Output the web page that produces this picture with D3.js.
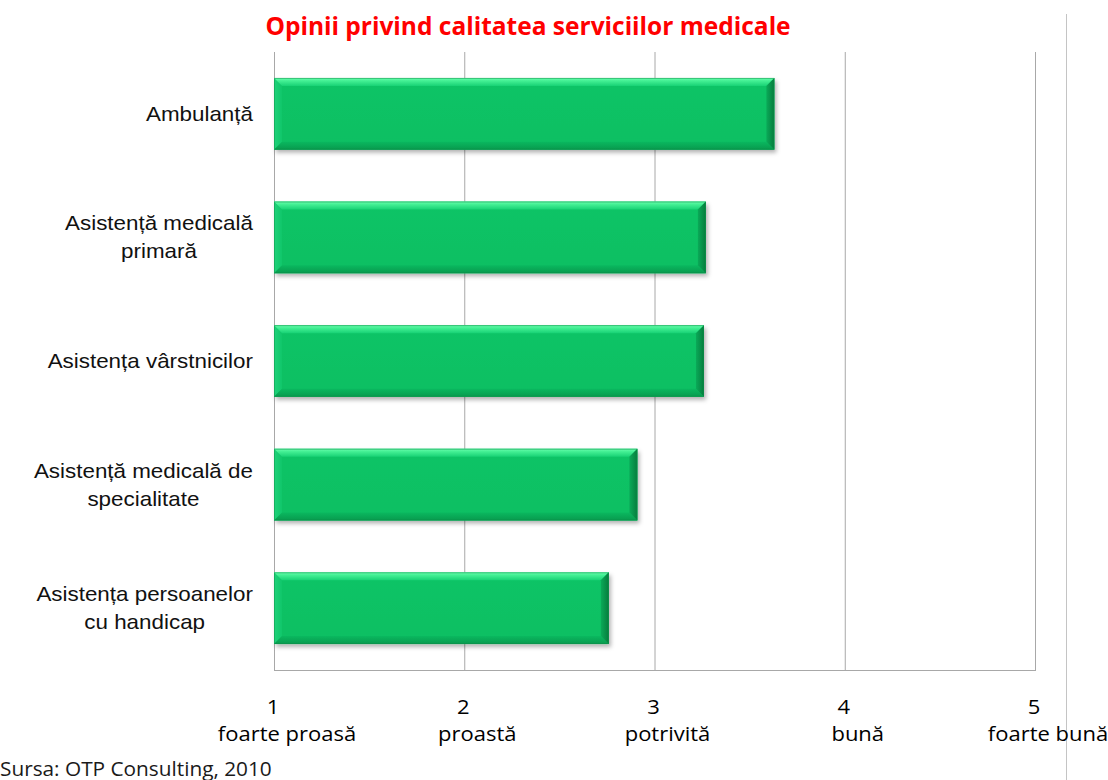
<!DOCTYPE html>
<html>
<head>
<meta charset="utf-8">
<script src="https://cdn.jsdelivr.net/npm/d3@7"></script>
<style>
  body { margin: 0; background: #fff; }
  svg { display: block; }
</style>
</head>
<body>
<svg id="chart" width="1108" height="780"></svg>
<script>
// Survey: perceived quality of medical services (1 = very poor ... 5 = very good)
const categories = [
  "Ambulanță",
  "Asistență medicală primară",
  "Asistența vârstnicilor",
  "Asistență medicală de specialitate",
  "Asistența persoanelor cu handicap"
];
const categoryLines = [
  ["Ambulanță"],
  ["Asistență medicală", "primară"],
  ["Asistența vârstnicilor"],
  ["Asistență medicală de", "specialitate"],
  ["Asistența persoanelor", "cu handicap"]
];
const scores = [3.63, 3.27, 3.26, 2.91, 2.76];
const tickValues = [1, 2, 3, 4, 5];
const tickLabels = ["foarte proasă", "proastă", "potrivită", "bună", "foarte bună"];
const titleText = "Opinii privind calitatea serviciilor medicale";
const sourceText = "Sursa: OTP Consulting, 2010";

const svg = d3.select("#chart");
const plot = { left: 274, right: 1035, top: 52, bottom: 670 };
const sansArial = "'Liberation Sans', Arial, sans-serif";
const sansCal = "'Open Sans', 'Noto Sans', sans-serif";

const x = d3.scaleLinear().domain([1, 5]).range([plot.left, plot.right]);
const y = d3.scaleBand().domain(categories).range([plot.top, plot.bottom])
  .paddingInner(0.42).paddingOuter(0.21);

// ---- defs: gradients and shadow for the bevelled bars
const defs = svg.append("defs");
function grad(id, stops, horizontal) {
  const g = defs.append("linearGradient").attr("id", id)
    .attr("x1", 0).attr("y1", 0)
    .attr("x2", horizontal ? 1 : 0).attr("y2", horizontal ? 0 : 1);
  stops.forEach(([o, c]) => g.append("stop").attr("offset", o).attr("stop-color", c));
}
grad("face", [[0, "#0cc466"], [1, "#0abf63"]]);
grad("bevTop", [[0, "#6dffb0"], [0.35, "#44f094"], [1, "#18d275"]]);
grad("bevBottom", [[0, "#0ab85f"], [1, "#089a4e"]]);
grad("bevRight", [[0, "#0aaa58"], [1, "#067c3d"]], true);
grad("bevLeft", [[0, "#1fd27a"], [1, "#10c66a"]], true);

const shadow = defs.append("filter").attr("id", "barShadow")
  .attr("x", "-5%").attr("y", "-20%").attr("width", "115%").attr("height", "160%");
shadow.append("feDropShadow").attr("dx", 2).attr("dy", 3).attr("stdDeviation", 2.2)
  .attr("flood-color", "#000").attr("flood-opacity", 0.3);

// horizontally widened text, placed at (px, py)
function wideText(sel, px, py, sx) {
  return sel.attr("transform", `translate(${px},${py}) scale(${sx},1)`);
}

// ---- title
svg.append("text")
  .attr("x", 528).attr("y", 35)
  .attr("text-anchor", "middle")
  .attr("font-family", sansCal).attr("font-weight", 700).attr("font-size", 24.5)
  .attr("fill", "#ff0000")
  .text(titleText);

// ---- gridlines and plot frame
const grid = svg.append("g");
grid.selectAll("line.v").data(tickValues).join("line")
  .attr("x1", d => x(d) + 0.5).attr("x2", d => x(d) + 0.5)
  .attr("y1", plot.top).attr("y2", plot.bottom)
  .attr("stroke", "#a8a8a8").attr("stroke-width", 1);
grid.append("line")
  .attr("x1", plot.left).attr("x2", plot.right + 1)
  .attr("y1", plot.bottom + 0.5).attr("y2", plot.bottom + 0.5)
  .attr("stroke", "#a8a8a8");

// divider line at the right edge of the slide
svg.append("line")
  .attr("x1", 1066.5).attr("x2", 1066.5).attr("y1", 14).attr("y2", 780)
  .attr("stroke", "#c4c4c4");

// ---- bars
const b = 8;
const bars = svg.append("g").selectAll("g.bar")
  .data(categories.map((c, i) => ({ c, v: scores[i] })))
  .join("g").attr("class", "bar");

bars.each(function (d) {
  const g = d3.select(this);
  const x0 = x(1), x1 = x(d.v), y0 = y(d.c), y1 = y(d.c) + y.bandwidth();
  g.append("rect").attr("x", x0).attr("y", y0)
    .attr("width", x1 - x0).attr("height", y1 - y0)
    .attr("fill", "url(#face)").attr("filter", "url(#barShadow)");
  const poly = (pts, fill) => g.append("polygon")
    .attr("points", pts.map(p => p.join(",")).join(" ")).attr("fill", fill);
  poly([[x0, y0], [x0 + b, y0 + b], [x0 + b, y1 - b], [x0, y1]], "url(#bevLeft)");
  poly([[x0, y0], [x1, y0], [x1 - b, y0 + b], [x0 + b, y0 + b]], "url(#bevTop)");
  poly([[x0, y1], [x1, y1], [x1 - b, y1 - b], [x0 + b, y1 - b]], "url(#bevBottom)");
  poly([[x1, y0], [x1, y1], [x1 - b, y1 - b], [x1 - b, y0 + b]], "url(#bevRight)");
  g.append("rect").attr("x", x0 + 0.5).attr("y", y0 + 0.5)
    .attr("width", x1 - x0 - 1).attr("height", y1 - y0 - 1)
    .attr("fill", "none").attr("stroke", "#0b8f48").attr("stroke-opacity", 0.5);
});

// ---- category labels: lines centred on each other, block right-aligned next to the axis
const stretch = 1.12;
const labelRight = plot.left - 21;
const lineGap = 28;
const catG = svg.append("g");
categories.forEach((c, i) => {
  const lines = categoryLines[i];
  const t = catG.append("text")
    .attr("font-family", sansArial).attr("font-size", 20).attr("fill", "#111")
    .attr("text-anchor", "middle");
  const spans = lines.map(l => t.append("tspan").text(l));
  const widths = spans.map(s => s.node().getComputedTextLength() * stretch);
  const maxW = d3.max(widths);
  const cx = labelRight - maxW / 2;
  const cy = y(c) + y.bandwidth() / 2;
  const firstBase = cy - (lines.length - 1) * lineGap / 2 + 7;
  spans.forEach((s, k) => s.attr("x", 0).attr("y", k * lineGap));
  wideText(t, cx, firstBase, stretch);
});

// ---- x axis labels: value above its verbal meaning
const axG = svg.append("g").attr("font-family", sansCal).attr("font-size", 20).attr("fill", "#000");
axG.selectAll("text.num").data(tickValues).join("text")
  .attr("text-anchor", "middle").text(d => d)
  .each(function (d) { wideText(d3.select(this), x(d) - 1, 714, 1.1); });
axG.selectAll("text.word").data(tickValues).join("text")
  .attr("text-anchor", "middle").text((d, i) => tickLabels[i])
  .each(function (d) { wideText(d3.select(this), x(d) + 13, 741, 1.1); });

// ---- source note
wideText(svg.append("text")
  .attr("font-family", sansCal).attr("font-size", 20).attr("fill", "#1a1a1a")
  .text(sourceText), 0, 776, 1.04);
</script>
</body>
</html>
